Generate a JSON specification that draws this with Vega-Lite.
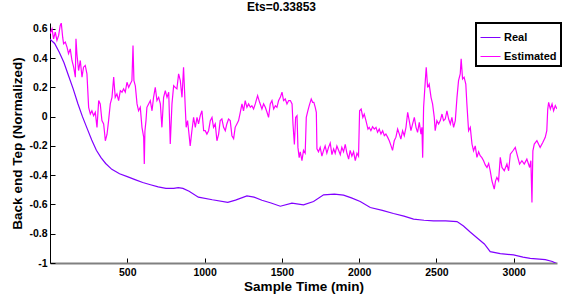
{
"$schema": "https://vega.github.io/schema/vega-lite/v6.json",
"autosize": {"type": "none"},
"padding": {"left": 50, "top": 23, "right": 7, "bottom": 34},
"width": 507,
"height": 240,
"background": "white",
"title": {"text": "Ets=0.33853", "font": "Liberation Sans", "fontSize": 12, "fontWeight": "bold", "color": "black", "anchor": "middle", "dx": -22, "offset": 8},
"data": {"values": [
{"s":"Real","t":0,"v":0.53},{"s":"Real","t":30,"v":0.5},{"s":"Real","t":60,"v":0.44},{"s":"Real","t":90,"v":0.37},{"s":"Real","t":120,"v":0.28},{"s":"Real","t":150,"v":0.19},{"s":"Real","t":180,"v":0.09},{"s":"Real","t":210,"v":0.0},{"s":"Real","t":240,"v":-0.08},{"s":"Real","t":270,"v":-0.16},{"s":"Real","t":300,"v":-0.23},{"s":"Real","t":330,"v":-0.28},{"s":"Real","t":360,"v":-0.32},{"s":"Real","t":400,"v":-0.36},{"s":"Real","t":450,"v":-0.39},{"s":"Real","t":500,"v":-0.41},{"s":"Real","t":550,"v":-0.43},{"s":"Real","t":600,"v":-0.45},{"s":"Real","t":650,"v":-0.465},{"s":"Real","t":700,"v":-0.48},{"s":"Real","t":750,"v":-0.49},{"s":"Real","t":800,"v":-0.49},{"s":"Real","t":830,"v":-0.485},{"s":"Real","t":860,"v":-0.49},{"s":"Real","t":900,"v":-0.51},{"s":"Real","t":960,"v":-0.55},{"s":"Real","t":1050,"v":-0.568},{"s":"Real","t":1150,"v":-0.585},{"s":"Real","t":1200,"v":-0.57},{"s":"Real","t":1274,"v":-0.541},{"s":"Real","t":1320,"v":-0.55},{"s":"Real","t":1371,"v":-0.571},{"s":"Real","t":1430,"v":-0.59},{"s":"Real","t":1490,"v":-0.612},{"s":"Real","t":1565,"v":-0.591},{"s":"Real","t":1640,"v":-0.603},{"s":"Real","t":1705,"v":-0.58},{"s":"Real","t":1770,"v":-0.534},{"s":"Real","t":1840,"v":-0.53},{"s":"Real","t":1899,"v":-0.536},{"s":"Real","t":1950,"v":-0.555},{"s":"Real","t":2007,"v":-0.58},{"s":"Real","t":2072,"v":-0.621},{"s":"Real","t":2150,"v":-0.64},{"s":"Real","t":2222,"v":-0.662},{"s":"Real","t":2290,"v":-0.68},{"s":"Real","t":2352,"v":-0.7},{"s":"Real","t":2420,"v":-0.708},{"s":"Real","t":2481,"v":-0.712},{"s":"Real","t":2560,"v":-0.712},{"s":"Real","t":2633,"v":-0.717},{"s":"Real","t":2675,"v":-0.747},{"s":"Real","t":2720,"v":-0.79},{"s":"Real","t":2762,"v":-0.827},{"s":"Real","t":2810,"v":-0.87},{"s":"Real","t":2848,"v":-0.922},{"s":"Real","t":2913,"v":-0.936},{"s":"Real","t":2999,"v":-0.945},{"s":"Real","t":3060,"v":-0.96},{"s":"Real","t":3107,"v":-0.968},{"s":"Real","t":3204,"v":-0.977},{"s":"Real","t":3250,"v":-0.99},{"s":"Real","t":3280,"v":-1.005},
{"s":"Estimated","t":0,"v":0.566},{"s":"Estimated","t":13,"v":0.6},{"s":"Estimated","t":23,"v":0.532},{"s":"Estimated","t":34,"v":0.578},{"s":"Estimated","t":45,"v":0.521},{"s":"Estimated","t":56,"v":0.555},{"s":"Estimated","t":66,"v":0.623},{"s":"Estimated","t":73,"v":0.639},{"s":"Estimated","t":82,"v":0.543},{"s":"Estimated","t":88,"v":0.498},{"s":"Estimated","t":99,"v":0.509},{"s":"Estimated","t":110,"v":0.475},{"s":"Estimated","t":120,"v":0.43},{"s":"Estimated","t":131,"v":0.463},{"s":"Estimated","t":142,"v":0.384},{"s":"Estimated","t":153,"v":0.338},{"s":"Estimated","t":164,"v":0.27},{"s":"Estimated","t":168,"v":0.532},{"s":"Estimated","t":174,"v":0.43},{"s":"Estimated","t":185,"v":0.315},{"s":"Estimated","t":196,"v":0.384},{"s":"Estimated","t":207,"v":0.27},{"s":"Estimated","t":217,"v":0.338},{"s":"Estimated","t":228,"v":0.35},{"s":"Estimated","t":239,"v":0.292},{"s":"Estimated","t":250,"v":0.064},{"s":"Estimated","t":261,"v":0.018},{"s":"Estimated","t":271,"v":0.04},{"s":"Estimated","t":282,"v":0.007},{"s":"Estimated","t":293,"v":0.03},{"s":"Estimated","t":304,"v":-0.073},{"s":"Estimated","t":315,"v":0.11},{"s":"Estimated","t":325,"v":0.087},{"s":"Estimated","t":336,"v":-0.027},{"s":"Estimated","t":347,"v":-0.05},{"s":"Estimated","t":352,"v":-0.1},{"s":"Estimated","t":358,"v":-0.165},{"s":"Estimated","t":369,"v":-0.12},{"s":"Estimated","t":379,"v":-0.027},{"s":"Estimated","t":390,"v":0.087},{"s":"Estimated","t":401,"v":0.132},{"s":"Estimated","t":412,"v":0.27},{"s":"Estimated","t":422,"v":0.132},{"s":"Estimated","t":433,"v":0.155},{"s":"Estimated","t":444,"v":0.11},{"s":"Estimated","t":455,"v":0.178},{"s":"Estimated","t":466,"v":0.167},{"s":"Estimated","t":476,"v":0.19},{"s":"Estimated","t":487,"v":0.167},{"s":"Estimated","t":498,"v":0.235},{"s":"Estimated","t":509,"v":0.2},{"s":"Estimated","t":519,"v":0.223},{"s":"Estimated","t":530,"v":0.246},{"s":"Estimated","t":537,"v":0.486},{"s":"Estimated","t":543,"v":0.246},{"s":"Estimated","t":552,"v":0.21},{"s":"Estimated","t":563,"v":0.087},{"s":"Estimated","t":573,"v":0.04},{"s":"Estimated","t":584,"v":0.064},{"s":"Estimated","t":595,"v":-0.073},{"s":"Estimated","t":606,"v":-0.14},{"s":"Estimated","t":610,"v":-0.324},{"s":"Estimated","t":614,"v":-0.1},{"s":"Estimated","t":621,"v":-0.027},{"s":"Estimated","t":627,"v":0.064},{"s":"Estimated","t":638,"v":0.087},{"s":"Estimated","t":649,"v":0.11},{"s":"Estimated","t":660,"v":0.04},{"s":"Estimated","t":670,"v":0.132},{"s":"Estimated","t":681,"v":0.2},{"s":"Estimated","t":692,"v":0.11},{"s":"Estimated","t":703,"v":0.132},{"s":"Estimated","t":714,"v":0.087},{"s":"Estimated","t":724,"v":-0.073},{"s":"Estimated","t":735,"v":0.132},{"s":"Estimated","t":746,"v":0.178},{"s":"Estimated","t":757,"v":0.132},{"s":"Estimated","t":768,"v":0.167},{"s":"Estimated","t":778,"v":-0.186},{"s":"Estimated","t":789,"v":0.087},{"s":"Estimated","t":800,"v":0.212},{"s":"Estimated","t":810,"v":0.2},{"s":"Estimated","t":821,"v":0.19},{"s":"Estimated","t":832,"v":0.292},{"s":"Estimated","t":843,"v":0.246},{"s":"Estimated","t":854,"v":0.132},{"s":"Estimated","t":864,"v":0.338},{"s":"Estimated","t":875,"v":0.064},{"s":"Estimated","t":881,"v":-0.073},{"s":"Estimated","t":890,"v":-0.027},{"s":"Estimated","t":897,"v":-0.096},{"s":"Estimated","t":907,"v":-0.2},{"s":"Estimated","t":918,"v":-0.096},{"s":"Estimated","t":929,"v":-0.005},{"s":"Estimated","t":940,"v":-0.073},{"s":"Estimated","t":951,"v":-0.005},{"s":"Estimated","t":961,"v":-0.05},{"s":"Estimated","t":972,"v":0.007},{"s":"Estimated","t":983,"v":0.04},{"s":"Estimated","t":994,"v":-0.096},{"s":"Estimated","t":1004,"v":-0.096},{"s":"Estimated","t":1015,"v":-0.119},{"s":"Estimated","t":1026,"v":-0.096},{"s":"Estimated","t":1037,"v":-0.027},{"s":"Estimated","t":1048,"v":-0.005},{"s":"Estimated","t":1058,"v":-0.073},{"s":"Estimated","t":1069,"v":-0.05},{"s":"Estimated","t":1080,"v":-0.165},{"s":"Estimated","t":1091,"v":-0.119},{"s":"Estimated","t":1101,"v":-0.027},{"s":"Estimated","t":1112,"v":-0.016},{"s":"Estimated","t":1123,"v":-0.073},{"s":"Estimated","t":1134,"v":-0.096},{"s":"Estimated","t":1144,"v":-0.05},{"s":"Estimated","t":1155,"v":-0.016},{"s":"Estimated","t":1166,"v":-0.027},{"s":"Estimated","t":1177,"v":-0.13},{"s":"Estimated","t":1188,"v":-0.15},{"s":"Estimated","t":1198,"v":-0.073},{"s":"Estimated","t":1209,"v":-0.05},{"s":"Estimated","t":1220,"v":-0.027},{"s":"Estimated","t":1231,"v":0.03},{"s":"Estimated","t":1242,"v":0.087},{"s":"Estimated","t":1252,"v":0.04},{"s":"Estimated","t":1263,"v":0.11},{"s":"Estimated","t":1274,"v":0.064},{"s":"Estimated","t":1285,"v":0.087},{"s":"Estimated","t":1296,"v":0.064},{"s":"Estimated","t":1306,"v":0.075},{"s":"Estimated","t":1317,"v":0.052},{"s":"Estimated","t":1328,"v":0.087},{"s":"Estimated","t":1343,"v":0.144},{"s":"Estimated","t":1356,"v":0.098},{"s":"Estimated","t":1371,"v":0.052},{"s":"Estimated","t":1382,"v":0.087},{"s":"Estimated","t":1393,"v":0.064},{"s":"Estimated","t":1404,"v":0.03},{"s":"Estimated","t":1414,"v":-0.005},{"s":"Estimated","t":1425,"v":0.087},{"s":"Estimated","t":1436,"v":0.11},{"s":"Estimated","t":1447,"v":0.052},{"s":"Estimated","t":1458,"v":0.075},{"s":"Estimated","t":1468,"v":0.064},{"s":"Estimated","t":1479,"v":0.11},{"s":"Estimated","t":1490,"v":0.132},{"s":"Estimated","t":1501,"v":0.167},{"s":"Estimated","t":1511,"v":0.11},{"s":"Estimated","t":1522,"v":0.121},{"s":"Estimated","t":1533,"v":0.087},{"s":"Estimated","t":1544,"v":0.11},{"s":"Estimated","t":1555,"v":0.11},{"s":"Estimated","t":1566,"v":0.087},{"s":"Estimated","t":1572,"v":-0.05},{"s":"Estimated","t":1581,"v":-0.19},{"s":"Estimated","t":1589,"v":-0.005},{"s":"Estimated","t":1598,"v":0.007},{"s":"Estimated","t":1604,"v":-0.21},{"s":"Estimated","t":1612,"v":-0.28},{"s":"Estimated","t":1619,"v":-0.24},{"s":"Estimated","t":1630,"v":-0.3},{"s":"Estimated","t":1640,"v":-0.23},{"s":"Estimated","t":1651,"v":-0.25},{"s":"Estimated","t":1658,"v":-0.005},{"s":"Estimated","t":1668,"v":0.04},{"s":"Estimated","t":1677,"v":0.075},{"s":"Estimated","t":1690,"v":0.121},{"s":"Estimated","t":1699,"v":0.098},{"s":"Estimated","t":1707,"v":0.098},{"s":"Estimated","t":1716,"v":0.064},{"s":"Estimated","t":1723,"v":0.03},{"s":"Estimated","t":1727,"v":-0.22},{"s":"Estimated","t":1737,"v":-0.24},{"s":"Estimated","t":1748,"v":-0.21},{"s":"Estimated","t":1759,"v":-0.27},{"s":"Estimated","t":1770,"v":-0.23},{"s":"Estimated","t":1780,"v":-0.2},{"s":"Estimated","t":1791,"v":-0.25},{"s":"Estimated","t":1802,"v":-0.21},{"s":"Estimated","t":1813,"v":-0.18},{"s":"Estimated","t":1824,"v":-0.26},{"s":"Estimated","t":1835,"v":-0.22},{"s":"Estimated","t":1845,"v":-0.25},{"s":"Estimated","t":1856,"v":-0.2},{"s":"Estimated","t":1867,"v":-0.23},{"s":"Estimated","t":1878,"v":-0.26},{"s":"Estimated","t":1888,"v":-0.21},{"s":"Estimated","t":1899,"v":-0.24},{"s":"Estimated","t":1910,"v":-0.19},{"s":"Estimated","t":1921,"v":-0.25},{"s":"Estimated","t":1932,"v":-0.29},{"s":"Estimated","t":1942,"v":-0.23},{"s":"Estimated","t":1953,"v":-0.27},{"s":"Estimated","t":1964,"v":-0.24},{"s":"Estimated","t":1975,"v":-0.3},{"s":"Estimated","t":1986,"v":-0.25},{"s":"Estimated","t":1996,"v":-0.27},{"s":"Estimated","t":2003,"v":0.04},{"s":"Estimated","t":2013,"v":0.052},{"s":"Estimated","t":2024,"v":-0.005},{"s":"Estimated","t":2033,"v":0.018},{"s":"Estimated","t":2044,"v":-0.027},{"s":"Estimated","t":2057,"v":-0.085},{"s":"Estimated","t":2065,"v":-0.073},{"s":"Estimated","t":2076,"v":-0.096},{"s":"Estimated","t":2087,"v":-0.069},{"s":"Estimated","t":2098,"v":-0.085},{"s":"Estimated","t":2109,"v":-0.073},{"s":"Estimated","t":2119,"v":-0.107},{"s":"Estimated","t":2130,"v":-0.085},{"s":"Estimated","t":2141,"v":-0.119},{"s":"Estimated","t":2152,"v":-0.096},{"s":"Estimated","t":2163,"v":-0.13},{"s":"Estimated","t":2173,"v":-0.119},{"s":"Estimated","t":2184,"v":-0.14},{"s":"Estimated","t":2195,"v":-0.165},{"s":"Estimated","t":2206,"v":-0.198},{"s":"Estimated","t":2216,"v":-0.23},{"s":"Estimated","t":2227,"v":-0.165},{"s":"Estimated","t":2238,"v":-0.14},{"s":"Estimated","t":2249,"v":-0.085},{"s":"Estimated","t":2260,"v":-0.119},{"s":"Estimated","t":2270,"v":-0.153},{"s":"Estimated","t":2281,"v":-0.096},{"s":"Estimated","t":2292,"v":-0.13},{"s":"Estimated","t":2303,"v":-0.073},{"s":"Estimated","t":2314,"v":0.03},{"s":"Estimated","t":2324,"v":-0.027},{"s":"Estimated","t":2335,"v":-0.096},{"s":"Estimated","t":2346,"v":-0.05},{"s":"Estimated","t":2357,"v":-0.005},{"s":"Estimated","t":2368,"v":-0.073},{"s":"Estimated","t":2378,"v":-0.107},{"s":"Estimated","t":2389,"v":-0.039},{"s":"Estimated","t":2400,"v":-0.119},{"s":"Estimated","t":2406,"v":-0.073},{"s":"Estimated","t":2411,"v":-0.28},{"s":"Estimated","t":2417,"v":0.064},{"s":"Estimated","t":2428,"v":0.246},{"s":"Estimated","t":2434,"v":0.338},{"s":"Estimated","t":2443,"v":0.2},{"s":"Estimated","t":2453,"v":0.223},{"s":"Estimated","t":2465,"v":0.132},{"s":"Estimated","t":2475,"v":0.087},{"s":"Estimated","t":2486,"v":-0.005},{"s":"Estimated","t":2492,"v":-0.096},{"s":"Estimated","t":2503,"v":-0.027},{"s":"Estimated","t":2514,"v":-0.05},{"s":"Estimated","t":2525,"v":-0.027},{"s":"Estimated","t":2536,"v":0.018},{"s":"Estimated","t":2546,"v":-0.027},{"s":"Estimated","t":2557,"v":-0.016},{"s":"Estimated","t":2568,"v":0.04},{"s":"Estimated","t":2579,"v":-0.016},{"s":"Estimated","t":2590,"v":-0.05},{"s":"Estimated","t":2600,"v":-0.005},{"s":"Estimated","t":2611,"v":-0.073},{"s":"Estimated","t":2622,"v":-0.027},{"s":"Estimated","t":2633,"v":0.132},{"s":"Estimated","t":2643,"v":0.246},{"s":"Estimated","t":2654,"v":0.292},{"s":"Estimated","t":2660,"v":0.395},{"s":"Estimated","t":2669,"v":0.258},{"s":"Estimated","t":2679,"v":0.27},{"s":"Estimated","t":2690,"v":0.223},{"s":"Estimated","t":2697,"v":0.087},{"s":"Estimated","t":2708,"v":-0.096},{"s":"Estimated","t":2719,"v":-0.073},{"s":"Estimated","t":2730,"v":-0.187},{"s":"Estimated","t":2740,"v":-0.233},{"s":"Estimated","t":2751,"v":-0.2},{"s":"Estimated","t":2762,"v":-0.278},{"s":"Estimated","t":2773,"v":-0.24},{"s":"Estimated","t":2783,"v":-0.267},{"s":"Estimated","t":2794,"v":-0.28},{"s":"Estimated","t":2805,"v":-0.301},{"s":"Estimated","t":2816,"v":-0.33},{"s":"Estimated","t":2827,"v":-0.347},{"s":"Estimated","t":2838,"v":-0.32},{"s":"Estimated","t":2848,"v":-0.37},{"s":"Estimated","t":2859,"v":-0.438},{"s":"Estimated","t":2874,"v":-0.495},{"s":"Estimated","t":2882,"v":-0.44},{"s":"Estimated","t":2891,"v":-0.415},{"s":"Estimated","t":2902,"v":-0.438},{"s":"Estimated","t":2913,"v":-0.278},{"s":"Estimated","t":2924,"v":-0.347},{"s":"Estimated","t":2939,"v":-0.37},{"s":"Estimated","t":2956,"v":-0.324},{"s":"Estimated","t":2967,"v":-0.37},{"s":"Estimated","t":2978,"v":-0.256},{"s":"Estimated","t":2995,"v":-0.233},{"s":"Estimated","t":3010,"v":-0.21},{"s":"Estimated","t":3021,"v":-0.256},{"s":"Estimated","t":3038,"v":-0.324},{"s":"Estimated","t":3053,"v":-0.301},{"s":"Estimated","t":3068,"v":-0.324},{"s":"Estimated","t":3085,"v":-0.29},{"s":"Estimated","t":3103,"v":-0.347},{"s":"Estimated","t":3111,"v":-0.301},{"s":"Estimated","t":3118,"v":-0.586},{"s":"Estimated","t":3124,"v":-0.233},{"s":"Estimated","t":3133,"v":-0.187},{"s":"Estimated","t":3150,"v":-0.164},{"s":"Estimated","t":3171,"v":-0.21},{"s":"Estimated","t":3188,"v":-0.176},{"s":"Estimated","t":3204,"v":-0.141},{"s":"Estimated","t":3214,"v":-0.096},{"s":"Estimated","t":3220,"v":0.05},{"s":"Estimated","t":3226,"v":0.098},{"s":"Estimated","t":3237,"v":0.052},{"s":"Estimated","t":3248,"v":0.087},{"s":"Estimated","t":3258,"v":0.04},{"s":"Estimated","t":3269,"v":0.075},{"s":"Estimated","t":3280,"v":0.052}
]},
"mark": {"type": "line", "strokeWidth": 1.2, "clip": true},
"encoding": {
"detail": {"field": "s", "type": "nominal"},
"x": {"field": "t", "type": "quantitative",
"scale": {"domain": [0, 3280], "nice": false, "zero": false},
"axis": {"title": "Sample Time (min)", "values": [500, 1000, 1500, 2000, 2500, 3000], "format": "d", "grid": false,
"domainColor": "#808080", "domainWidth": 2, "tickColor": "black", "tickSize": -5, "labelPadding": 9,
"labelFont": "Liberation Sans", "labelFontSize": 10.5, "labelFontWeight": "bold", "labelColor": "black",
"titleFont": "Liberation Sans", "titleFontSize": 13.5, "titleFontWeight": "bold", "titleColor": "black", "titlePadding": 2}},
"y": {"field": "v", "type": "quantitative",
"scale": {"domain": [-1, 0.64], "nice": false, "zero": false},
"axis": {"title": "Back end Tep (Normalized)", "values": [-1, -0.8, -0.6, -0.4, -0.2, 0, 0.2, 0.4, 0.6], "labelExpr": "replace(format(datum.value, '~g'), '−', '-')", "grid": false,
"domainColor": "black", "domainWidth": 1, "tickColor": "black", "tickSize": -5, "labelPadding": 8,
"labelFont": "Liberation Sans", "labelFontSize": 10.5, "labelFontWeight": "bold", "labelColor": "black",
"titleFont": "Liberation Sans", "titleFontSize": 13.5, "titleFontWeight": "bold", "titleColor": "black", "titlePadding": 4}},
"color": {"field": "s", "type": "nominal",
"scale": {"domain": ["Real", "Estimated"], "range": ["#8000ff", "#ff00ff"]},
"legend": {"title": null, "orient": "none", "legendX": 426, "legendY": 0, "direction": "vertical",
"symbolType": "stroke", "symbolSize": 400, "symbolStrokeWidth": 1,
"labelFont": "Liberation Sans", "labelFontSize": 11, "labelFontWeight": "bold", "labelColor": "black", "labelOffset": 3,
"strokeColor": "black", "fillColor": "white", "padding": 4, "rowPadding": 3}}
},
"config": {"view": {"stroke": null}, "legend": {"strokeWidth": 2}}
}
